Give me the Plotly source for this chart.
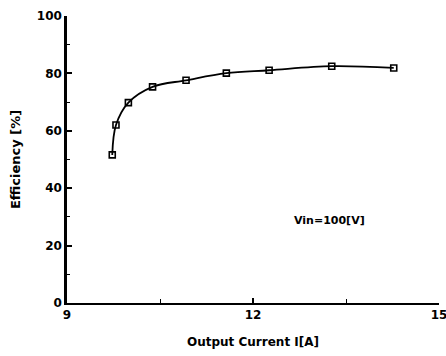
import plotly.graph_objects as go

current = [9.73, 9.79, 9.99, 10.38, 10.92, 11.57, 12.26, 13.27, 14.27]
efficiency = [51.6, 62.0, 69.8, 75.3, 77.6, 80.1, 81.1, 82.5, 81.9]

x_ticks = [9, 12, 15]
y_ticks = [0, 20, 40, 60, 80, 100]

font = "DejaVu Sans"

fig = go.Figure()
fig.add_trace(go.Scatter(
    x=current, y=efficiency, mode="lines+markers",
    line=dict(color="black", width=1.8, shape="spline", smoothing=1.0),
    marker=dict(symbol="square-open", size=6, color="black", line=dict(width=1.6, color="black")),
    showlegend=False,
))

fig.add_annotation(x=13.23, y=28.6, text="Vin=100[V]", showarrow=False,
                   font=dict(family=font, size=11, color="black", weight="bold"))

fig.update_xaxes(
    range=[9, 15], tickvals=x_ticks, ticktext=[str(v) for v in x_ticks],
    showline=True, linecolor="black", linewidth=2, mirror=False, automargin=False,
    ticklabeloverflow="allow",
    ticks="inside", ticklen=5, tickwidth=1.5, tickcolor="black",
    minor=dict(tickvals=[10.5, 13.5], ticks="inside", ticklen=4, tickcolor="black", tickwidth=1.2),
    showgrid=False, zeroline=False,
    tickfont=dict(family=font, size=12, color="black", weight="bold"),
    title=dict(text="Output Current I[A]", font=dict(family=font, size=12, color="black", weight="bold"), standoff=16),
)
fig.update_yaxes(
    range=[0, 100], tickvals=y_ticks,
    showline=True, linecolor="black", linewidth=2.5, mirror=False, automargin=False,
    ticklabeloverflow="allow",
    ticks="inside", ticklen=5, tickwidth=1.5, tickcolor="black",
    minor=dict(tickvals=[10, 30, 50, 70, 90], ticks="inside", ticklen=3, tickcolor="black", tickwidth=1.2),
    showgrid=False, zeroline=False,
    tickfont=dict(family=font, size=12, color="black", weight="bold"),
    title=dict(text="Efficiency [%]", font=dict(family=font, size=13, color="black", weight="bold"), standoff=14),
)

fig.update_layout(
    width=446, height=356,
    margin=dict(l=67, r=7, t=16, b=53),
    paper_bgcolor="white", plot_bgcolor="white",
)

fig.write_html("out.html", config={"displayModeBar": False},
               post_script="document.body.style.margin='0';document.body.style.overflow='hidden';")
